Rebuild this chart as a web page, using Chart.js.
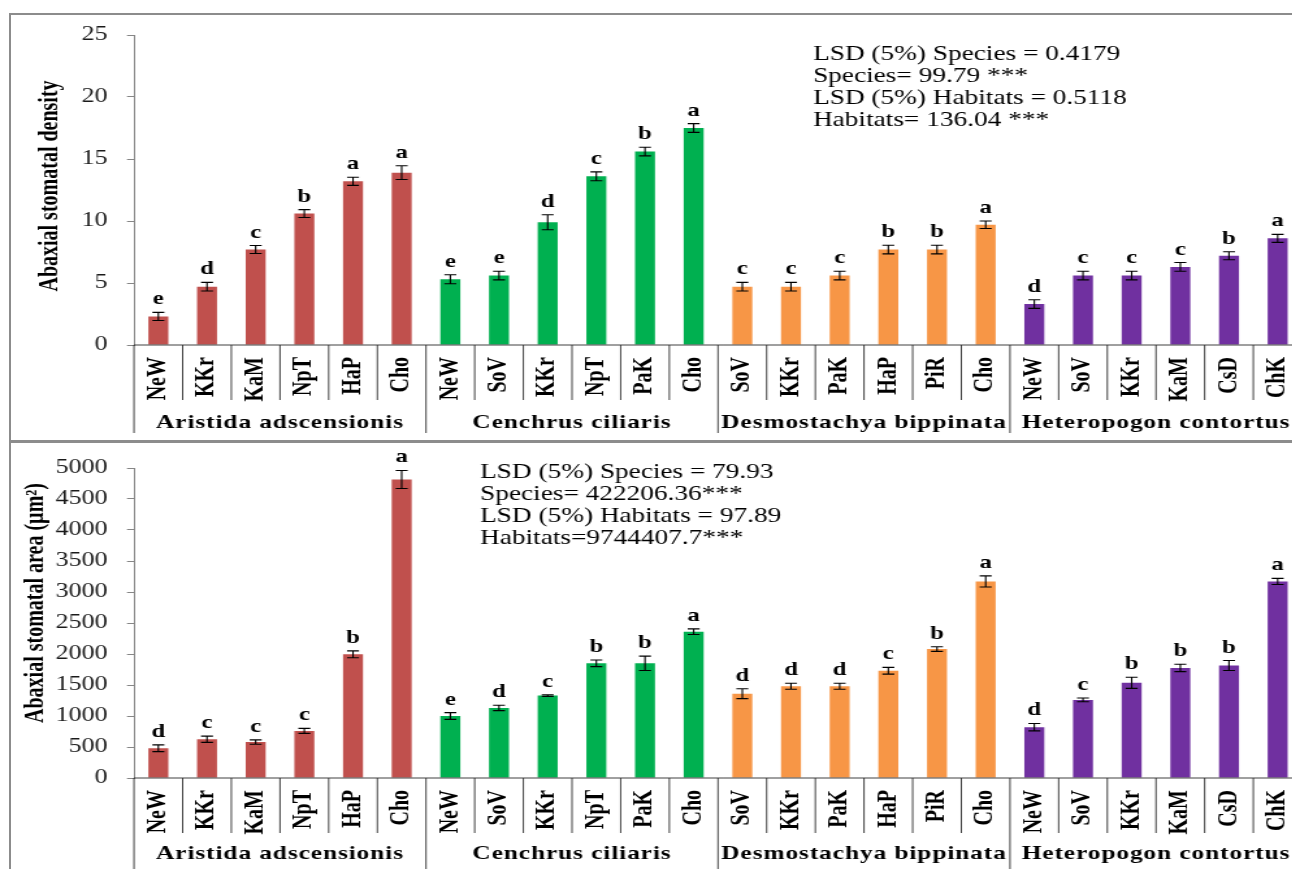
<!DOCTYPE html>
<html>
<head>
<meta charset="utf-8">
<title>Abaxial stomatal density and area</title>
<script src="https://cdn.jsdelivr.net/npm/chart.js@4.4.1/dist/chart.umd.min.js"></script>
<style>
  html, body { margin: 0; padding: 0; background: #fff; overflow: hidden; width: 1292px; height: 869px; }
  .frame { position: absolute; left: 9px; top: 13px; width: 1400px; height: 1000px;
           border-left: 2px solid #8c8c8c; border-top: 2px solid #8c8c8c; }
  .divider { position: absolute; left: 9px; top: 440px; width: 1400px; height: 3px; background: #8c8c8c; }
  canvas { position: absolute; left: 0; transform-origin: 0 0; transform: scaleX(1.3); }
  #densityChart { top: 0; }
  #areaChart { top: 441px; }
</style>
</head>
<body>
<div class="frame"></div>
<div class="divider"></div>
<canvas id="densityChart" width="1008" height="441"></canvas>
<canvas id="areaChart" width="1008" height="428"></canvas>
<script>
// Horizontal stretch of both canvases (the figure uses wide, stretched type)
const S = 1.3;
const CANVAS_W = 1008;

// Habitats sampled for each species (six per species)
const habitats = [
  'NeW', 'KKr', 'KaM', 'NpT', 'HaP', 'Cho',
  'NeW', 'SoV', 'KKr', 'NpT', 'PaK', 'Cho',
  'SoV', 'KKr', 'PaK', 'HaP', 'PiR', 'Cho',
  'NeW', 'SoV', 'KKr', 'KaM', 'CsD', 'ChK'
];
const species = ['Aristida adscensionis', 'Cenchrus ciliaris', 'Desmostachya bippinata', 'Heteropogon contortus'];
const speciesColors = ['#C0504D', '#00B050', '#F79646', '#7030A0'];
const perSpecies = 6;

// Abaxial stomatal density: means, standard errors and LSD letters
const densityMean = [
  2.3, 4.7, 7.7, 10.6, 13.2, 13.9,
  5.3, 5.6, 9.9, 13.6, 15.6, 17.5,
  4.7, 4.7, 5.6, 7.7, 7.7, 9.7,
  3.3, 5.6, 5.6, 6.3, 7.2, 8.6
];
const densityErr = [
  0.33, 0.35, 0.32, 0.32, 0.33, 0.55,
  0.36, 0.35, 0.6, 0.36, 0.35, 0.35,
  0.35, 0.35, 0.35, 0.35, 0.35, 0.3,
  0.35, 0.35, 0.35, 0.35, 0.32, 0.32
];
const densityLetters = [
  'e', 'd', 'c', 'b', 'a', 'a',
  'e', 'e', 'd', 'c', 'b', 'a',
  'c', 'c', 'c', 'b', 'b', 'a',
  'd', 'c', 'c', 'c', 'b', 'a'
];
const densityTicks = [0, 25, 5];
const densityNotes = [
  'LSD (5%) Species = 0.4179',
  'Species= 99.79 ***',
  'LSD (5%) Habitats = 0.5118',
  'Habitats= 136.04 ***'
];

// Abaxial stomatal area (µm²): means, standard errors and LSD letters
const areaMean = [
  480, 625, 580, 760, 1995, 4815,
  1000, 1130, 1330, 1850, 1850, 2360,
  1360, 1480, 1480, 1730, 2080, 3170,
  820, 1260, 1535, 1775, 1815, 3170
];
const areaErr = [
  55, 50, 35, 40, 55, 145,
  55, 43, 13, 53, 115, 45,
  80, 48, 48, 55, 38, 90,
  60, 30, 90, 60, 80, 50
];
const areaLetters = [
  'd', 'c', 'c', 'c', 'b', 'a',
  'e', 'd', 'c', 'b', 'b', 'a',
  'd', 'd', 'd', 'c', 'b', 'a',
  'd', 'c', 'b', 'b', 'b', 'a'
];
const areaTicks = [0, 5000, 500];
const areaNotes = [
  'LSD (5%) Species = 79.93',
  'Species= 422206.36***',
  'LSD (5%) Habitats = 97.89',
  'Habitats=9744407.7***'
];

const SERIF = '"Liberation Serif", "Times New Roman", serif';
const barColors = habitats.map((_, i) => speciesColors[Math.floor(i / perSpecies)]);

// Error bars, significance letters, grouped category axis, axis title and notes
const panelDecor = {
  id: 'panelDecor',
  afterDatasetsDraw(chart, args, opts) {
    const ctx = chart.ctx;
    const y = chart.scales.y;
    const meta = chart.getDatasetMeta(0);
    const values = chart.data.datasets[0].data;
    const cap = 4.6;
    ctx.save();
    ctx.strokeStyle = '#000';
    ctx.fillStyle = '#000';
    ctx.lineWidth = 1.1;
    ctx.font = 'bold 19px ' + SERIF;
    ctx.textAlign = 'center';
    ctx.textBaseline = 'alphabetic';
    meta.data.forEach((bar, i) => {
      const v = values[i], e = opts.err[i];
      const yt = y.getPixelForValue(v + e);
      const yb = y.getPixelForValue(v - e);
      ctx.beginPath();
      ctx.moveTo(bar.x, yt); ctx.lineTo(bar.x, yb);
      ctx.moveTo(bar.x - cap, yt); ctx.lineTo(bar.x + cap, yt);
      ctx.moveTo(bar.x - cap, yb); ctx.lineTo(bar.x + cap, yb);
      ctx.stroke();
      ctx.fillText(opts.letters[i], bar.x, yt - 8);
    });
    ctx.restore();
  },
  afterDraw(chart, args, opts) {
    const ctx = chart.ctx;
    const x = chart.scales.x;
    const area = chart.chartArea;
    const n = chart.data.labels.length;
    const half = (x.getPixelForValue(1) - x.getPixelForValue(0)) / 2;
    ctx.save();

    // category axis line and separators
    ctx.strokeStyle = '#2a2a2a';
    ctx.lineWidth = 0.9;
    ctx.beginPath();
    ctx.moveTo(area.left, area.bottom);
    ctx.lineTo(area.right + 10, area.bottom);
    for (let i = 0; i <= n; i++) {
      const ex = i < n ? x.getPixelForValue(i) - half : x.getPixelForValue(n - 1) + half;
      const len = i % perSpecies === 0 ? opts.groupLine : opts.catLine;
      ctx.moveTo(ex, area.bottom);
      ctx.lineTo(ex, area.bottom + len);
    }
    ctx.stroke();

    // habitat labels, rotated
    ctx.fillStyle = '#000';
    ctx.font = 'bold 20px ' + SERIF;
    ctx.textAlign = 'right';
    ctx.textBaseline = 'middle';
    chart.data.labels.forEach((lab, i) => {
      ctx.save();
      ctx.translate(x.getPixelForValue(i), area.bottom + opts.labelOffset);
      ctx.rotate(-Math.PI / 2);
      ctx.fillText(lab, 0, 0);
      ctx.restore();
    });

    // species labels
    ctx.font = 'bold 19.5px ' + SERIF;
    ctx.textAlign = 'center';
    ctx.textBaseline = 'middle';
    ctx.letterSpacing = '0.7px';
    species.forEach((sp, g) => {
      const cx = (x.getPixelForValue(g * perSpecies) + x.getPixelForValue(g * perSpecies + perSpecies - 1)) / 2;
      ctx.fillText(sp, cx, area.bottom + opts.groupLabelY);
    });
    ctx.letterSpacing = '0px';

    // value axis title
    ctx.save();
    ctx.translate(opts.titleX, opts.titleY);
    ctx.rotate(-Math.PI / 2);
    ctx.font = 'bold 20px ' + SERIF;
    ctx.textAlign = 'center';
    ctx.textBaseline = 'middle';
    ctx.fillText(opts.title, 0, 0);
    ctx.restore();

    // LSD / F statistics block
    ctx.font = '21px ' + SERIF;
    ctx.textAlign = 'left';
    ctx.textBaseline = 'alphabetic';
    opts.notes.forEach((line, k) => {
      ctx.fillText(line, opts.notesX, opts.notesY + k * 22);
    });
    ctx.restore();
  }
};

function makeChart(id, cfg) {
  return new Chart(document.getElementById(id), {
    type: 'bar',
    data: {
      labels: habitats,
      datasets: [{
        data: cfg.mean,
        backgroundColor: barColors,
        borderWidth: 0,
        barPercentage: 0.41,
        categoryPercentage: 1
      }]
    },
    options: {
      responsive: false,
      animation: false,
      devicePixelRatio: 1,
      events: [],
      layout: { padding: { top: cfg.top, left: 0, right: CANVAS_W - 1302 / S, bottom: 0 } },
      plugins: {
        legend: { display: false },
        tooltip: { enabled: false },
        panelDecor: {
          err: cfg.err,
          letters: cfg.letters,
          title: cfg.title,
          titleX: cfg.titleX,
          titleY: cfg.titleY,
          notes: cfg.notes,
          notesX: cfg.notesX,
          notesY: cfg.notesY,
          labelOffset: 12,
          catLine: 55,
          groupLine: cfg.groupLine,
          groupLabelY: cfg.groupLabelY
        }
      },
      scales: {
        x: {
          ticks: { display: false },
          grid: { display: false },
          border: { display: false },
          afterFit: s => { s.height = cfg.axisHeight; }
        },
        y: {
          min: cfg.ticks[0],
          max: cfg.ticks[1],
          ticks: {
            stepSize: cfg.ticks[2],
            color: '#1a1a1a',
            font: { family: SERIF, size: 20 },
            padding: 15,
            callback: v => String(v)
          },
          grid: { drawOnChartArea: false, drawTicks: true, tickLength: 5.4, color: '#868686' },
          border: { color: '#868686', width: 1 },
          afterFit: s => { s.width = 134 / S; }
        }
      }
    },
    plugins: [panelDecor]
  });
}

makeChart('densityChart', {
  mean: densityMean, err: densityErr, letters: densityLetters, ticks: densityTicks,
  title: 'Abaxial stomatal density', titleX: 51 / S, titleY: 186,
  notes: densityNotes, notesX: 813 / S, notesY: 60,
  top: 35, axisHeight: 96, groupLine: 88, groupLabelY: 78
});

makeChart('areaChart', {
  mean: areaMean, err: areaErr, letters: areaLetters, ticks: areaTicks,
  title: 'Abaxial stomatal area (µm²)', titleX: 36 / S, titleY: 162,
  notes: areaNotes, notesX: 480 / S, notesY: 37,
  top: 24, axisHeight: 91, groupLine: 95, groupLabelY: 76
});
</script>
</body>
</html>
